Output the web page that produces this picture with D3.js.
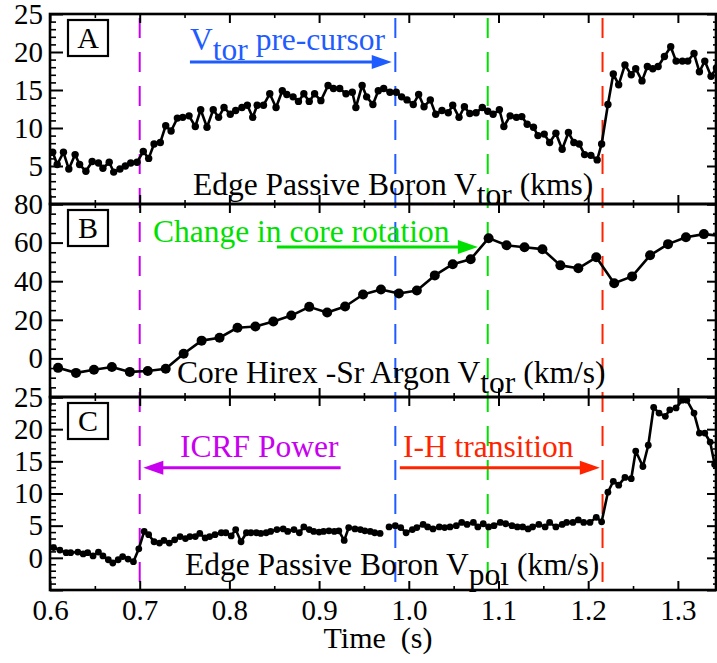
<!DOCTYPE html>
<html>
<head>
<meta charset="utf-8">
<script src="https://cdn.jsdelivr.net/npm/d3@7"></script>
<style>
  html, body { margin: 0; padding: 0; background: #fff; }
  svg { display: block; }
</style>
</head>
<body>
<svg id="chart" width="717" height="663"></svg>
<script>
// ---- Panel A: edge passive boron toroidal velocity (km/s)
const aTime = [0.603,0.608,0.615,0.621,0.628,0.633,0.640,0.647,0.654,0.659,
  0.666,0.671,0.678,0.684,0.690,0.697,0.704,0.710,0.716,0.723,
  0.729,0.735,0.742,0.748,0.755,0.762,0.768,0.775,0.782,0.788,
  0.794,0.801,0.807,0.814,0.820,0.826,0.831,0.838,0.845,0.852,
  0.859,0.864,0.871,0.877,0.883,0.889,0.895,0.902,0.910,0.916,
  0.923,0.930,0.937,0.941,0.948,0.953,0.960,0.966,0.972,0.979,
  0.986,0.992,0.998,1.005,1.011,1.017,1.024,1.030,1.037,1.044,
  1.049,1.056,1.062,1.068,1.075,1.082,1.088,1.094,1.101,1.106,
  1.113,1.120,1.126,1.132,1.139,1.144,1.151,1.157,1.164,1.171,
  1.178,1.184,1.190,1.196,1.203,1.210,1.215,1.222,1.228,1.234,
  1.241,1.248,1.253,1.260,1.266,1.272,1.278,1.285,1.292,1.298,
  1.305,1.311,1.318,1.324,1.330,1.337,1.343];
const aVtor = [6.8,5.2,6.8,4.6,6.5,5.2,4.3,5.6,5.4,4.7,
  5.5,4.2,4.6,5.0,5.4,5.5,6.9,6.0,7.9,8.1,
  10.3,9.6,11.3,11.4,11.6,10.2,12.4,10.1,12.4,11.4,
  12.7,11.8,12.3,12.7,13.0,11.4,13.0,13.0,14.5,12.7,
  14.9,14.4,14.1,13.5,14.5,13.5,14.5,13.6,15.6,15.2,
  15.2,14.5,14.7,12.7,15.6,14.1,13.1,14.9,15.2,14.7,
  14.7,14.1,13.7,13.1,14.4,12.8,13.7,11.8,12.3,12.0,
  13.0,11.4,12.8,11.9,12.0,12.7,12.2,11.8,12.4,10.2,
  11.6,11.4,11.5,10.5,10.1,9.0,9.2,8.1,9.3,7.2,
  9.4,8.1,7.9,6.5,6.4,5.8,7.9,13.1,17.1,15.7,
  18.3,17.0,17.8,16.2,18.1,17.8,18.1,19.4,20.7,18.8,
  18.8,18.8,19.8,17.4,18.8,16.8,17.9];

// ---- Panel B: core Hirex-Sr argon toroidal velocity (km/s)
const bTime = [0.609,0.629,0.649,0.669,0.689,0.709,0.729,0.749,0.769,0.789,
  0.809,0.829,0.849,0.869,0.889,0.909,0.929,0.949,0.969,0.989,
  1.009,1.029,1.049,1.069,1.089,1.109,1.129,1.149,1.169,1.189,
  1.209,1.229,1.249,1.269,1.289,1.309,1.329,1.349];
const bVtor = [-4.9,-7.5,-5.9,-4.5,-7.0,-6.5,-5.4,2.4,9.2,10.7,
  15.9,16.5,19.1,22.2,26.7,23.8,26.9,33.1,35.7,33.6,
  35.2,43.0,48.8,51.4,62.3,58.6,57.6,56.6,48.2,46.7,
  52.4,38.9,42.5,53.4,59.2,62.8,64.4,63.4];

// ---- Panel C: edge passive boron poloidal velocity (km/s); null = missing sample
const cTime = [0.604,0.611,0.618,0.623,0.631,0.637,0.642,0.648,0.654,0.659,
  0.665,0.670,0.676,0.681,0.687,0.693,0.699,0.705,0.710,0.716,
  0.722,0.727,0.733,0.739,0.745,0.751,0.756,0.762,0.767,0.773,
  0.778,0.784,0.791,0.796,0.802,0.807,0.813,0.819,0.824,0.830,
  0.835,0.841,0.846,0.853,0.860,0.865,0.872,0.878,0.883,0.889,
  0.894,0.900,0.905,0.911,0.917,0.922,0.928,0.933,0.940,0.946,
  0.951,0.957,0.962,0.968,0.973,0.978,0.985,0.991,0.997,1.004,
  1.009,1.016,1.021,1.027,1.034,1.040,1.046,1.053,1.059,1.065,
  1.072,1.077,1.083,1.089,1.095,1.102,1.108,1.115,1.121,1.127,
  1.133,1.138,1.145,1.152,1.157,1.164,1.171,1.176,1.183,1.189,
  1.195,1.202,1.209,1.215,1.222,1.228,1.234,1.241,1.248,1.253,
  1.261,1.267,1.273,1.279,1.286,1.291,1.298,1.305,1.310,1.318,
  1.324,1.330,1.336,1.341];
const cVpol = [1.6,1.2,0.8,0.8,0.9,0.6,0.8,0.3,0.9,0.3,
  -0.3,-0.8,-0.3,0.2,-0.2,-0.6,1.4,4.1,3.6,2.5,
  2.3,2.7,2.3,2.8,3.3,3.0,3.3,3.3,3.8,3.1,
  3.3,3.6,3.9,3.9,3.4,4.4,2.5,3.9,3.9,3.9,
  3.8,3.9,4.1,4.4,4.5,4.1,4.4,3.9,4.8,4.4,
  4.1,4.0,4.1,4.2,4.1,4.2,2.7,4.7,4.5,4.4,
  4.2,4.1,3.9,3.8,null,4.8,5.0,4.7,3.9,4.4,
  4.7,5.2,4.8,4.5,4.8,4.7,4.8,5.0,5.5,5.2,
  5.5,4.8,5.3,4.8,5.0,5.5,5.3,5.0,4.8,4.8,
  4.5,4.8,5.2,4.8,5.5,4.8,5.2,5.5,5.5,5.9,
  5.5,5.5,6.3,5.6,10.2,11.9,11.3,12.5,12.3,16.6,
  14.2,17.5,23.4,22.5,22.0,23.0,23.3,24.5,24.5,22.5,
  19.4,19.4,18.0,14.5];

// ---- Axis ticks
const xMajorTicks = [0.6,0.7,0.8,0.9,1.0,1.1,1.2,1.3];
const xMinorTicks = [0.65,0.75,0.85,0.95,1.05,1.15,1.25];
const aTickLabels = [5,10,15,20,25];
const bTickLabels = [0,20,40,60,80];
const cTickLabels = [0,5,10,15,20,25];

// ---- Event times (s) marked by dashed verticals
const eventTimes = [0.700, 0.985, 1.088, 1.216];
const eventColors = ["#c800f0", "#1f5cff", "#00e000", "#ff2400"];

const SERIF = '"Liberation Serif"';
const FONT_TICK = 29, FONT_NOTE = 31.5;
const svg = d3.select("#chart");

const x = d3.scaleLinear().domain([0.6, 1.3425]).range([50, 716]);
const X0 = 50, X1 = 716;

const panels = [
  { id: "A", top: 14, bottom: 204, domain: [0, 25], major: 5, minor: 1,
    labels: aTickLabels, time: aTime, vals: aVtor, r: 3.7 },
  { id: "B", top: 204, bottom: 397, domain: [-20, 80], major: 20, minor: 5,
    labels: bTickLabels, time: bTime, vals: bVtor, r: 5 },
  { id: "C", top: 397, bottom: 590, domain: [-5, 25], major: 5, minor: 1,
    labels: cTickLabels, time: cTime, vals: cVpol, r: 3.4 }
];
panels.forEach(p => {
  p.y = d3.scaleLinear().domain(p.domain).range([p.bottom, p.top]);
});

// dashed event markers through all three panels
const gEvents = svg.append("g");
eventTimes.forEach((t, i) => {
  gEvents.append("line")
    .attr("x1", x(t)).attr("x2", x(t))
    .attr("y1", 14).attr("y2", 590)
    .attr("stroke", eventColors[i])
    .attr("stroke-width", 2)
    .attr("stroke-dasharray", "20,14")
    .attr("stroke-dashoffset", -4);
});

const defs = svg.append("defs");

panels.forEach(p => {
  const g = svg.append("g");
  const clipId = "clip" + p.id;
  defs.append("clipPath").attr("id", clipId)
    .append("rect").attr("x", X0).attr("y", p.top)
    .attr("width", X1 - X0).attr("height", p.bottom - p.top);

  const pts = p.time.map((t, i) => ({ t, v: p.vals[i] }));
  const line = d3.line().defined(d => d.v !== null)
    .x(d => x(d.t)).y(d => p.y(d.v));
  const gd = g.append("g").attr("clip-path", `url(#${clipId})`);
  gd.append("path").datum(pts)
    .attr("d", line).attr("fill", "none")
    .attr("stroke", "#000").attr("stroke-width", 2.6)
    .attr("stroke-linejoin", "round");
  gd.selectAll("circle").data(pts.filter(d => d.v !== null)).join("circle")
    .attr("cx", d => x(d.t)).attr("cy", d => p.y(d.v)).attr("r", p.r)
    .attr("fill", "#000");

  const majors = d3.range(p.domain[0], p.domain[1] + 0.001, p.major);
  const minors = d3.range(p.domain[0], p.domain[1] + 0.001, p.minor)
    .filter(v => Math.abs(v / p.major - Math.round(v / p.major)) > 1e-6);

  const styleAxis = (sel) => {
    sel.select(".domain").remove();
    sel.attr("font-family", null).attr("font-size", null);
    sel.selectAll("line").attr("stroke", "#000");
    sel.selectAll("text").style("font-family", SERIF)
      .style("font-size", FONT_TICK + "px").attr("fill", "#000");
  };

  // left axis: labelled majors, unlabelled minors, ticks pointing inward
  g.append("g").attr("transform", `translate(${X0},0)`)
    .call(d3.axisLeft(p.y).tickValues(majors).tickSize(-13).tickSizeOuter(0).tickPadding(7)
      .tickFormat(v => p.labels.includes(v) ? d3.format("d")(v) : ""))
    .call(styleAxis).call(s => s.selectAll("line").attr("stroke-width", 2));
  g.append("g").attr("transform", `translate(${X0},0)`)
    .call(d3.axisLeft(p.y).tickValues(minors).tickSize(-6).tickSizeOuter(0).tickFormat(""))
    .call(styleAxis).call(s => s.selectAll("line").attr("stroke-width", 1.6));

  // right axis
  g.append("g").attr("transform", `translate(${X1},0)`)
    .call(d3.axisRight(p.y).tickValues(majors).tickSize(-9).tickSizeOuter(0).tickFormat(""))
    .call(styleAxis).call(s => s.selectAll("line").attr("stroke-width", 2));
  g.append("g").attr("transform", `translate(${X1},0)`)
    .call(d3.axisRight(p.y).tickValues(minors).tickSize(-3).tickSizeOuter(0).tickFormat(""))
    .call(styleAxis).call(s => s.selectAll("line").attr("stroke-width", 1.6));

  // top and bottom time axes
  g.append("g").attr("transform", `translate(0,${p.top})`)
    .call(d3.axisTop(x).tickValues(xMajorTicks).tickSize(-9).tickSizeOuter(0).tickFormat(""))
    .call(styleAxis).call(s => s.selectAll("line").attr("stroke-width", 2));
  g.append("g").attr("transform", `translate(0,${p.top})`)
    .call(d3.axisTop(x).tickValues(xMinorTicks).tickSize(-4).tickSizeOuter(0).tickFormat(""))
    .call(styleAxis).call(s => s.selectAll("line").attr("stroke-width", 1.6));
  g.append("g").attr("transform", `translate(0,${p.bottom})`)
    .call(d3.axisBottom(x).tickValues(xMajorTicks).tickSize(-9).tickSizeOuter(0).tickPadding(9)
      .tickFormat(p.id === "C" ? d3.format(".1f") : ""))
    .call(styleAxis).call(s => s.selectAll("line").attr("stroke-width", 2));
  g.append("g").attr("transform", `translate(0,${p.bottom})`)
    .call(d3.axisBottom(x).tickValues(xMinorTicks).tickSize(-4).tickSizeOuter(0).tickFormat(""))
    .call(styleAxis).call(s => s.selectAll("line").attr("stroke-width", 1.6));

  // frame
  g.append("rect").attr("x", X0).attr("y", p.top)
    .attr("width", X1 - X0).attr("height", p.bottom - p.top)
    .attr("fill", "none").attr("stroke", "#000").attr("stroke-width", 2.6);

  // boxed panel letter
  g.append("rect").attr("x", 68).attr("y", p.top + 6).attr("width", 40).attr("height", 36)
    .attr("fill", "#fff").attr("stroke", "#000").attr("stroke-width", 2.2);
  g.append("text").attr("x", 88).attr("y", p.top + 34).attr("text-anchor", "middle")
    .style("font-family", SERIF).style("font-size", "30px").text(p.id);
});

// text with a subscript, e.g. V_tor
function subText(xPos, yPos, before, sub, after, color) {
  const t = svg.append("text").attr("x", xPos).attr("y", yPos)
    .attr("fill", color).style("font-family", SERIF).style("font-size", FONT_NOTE + "px")
    .style("white-space", "pre");
  t.append("tspan").text(before);
  t.append("tspan").attr("dy", 10).text(sub);
  t.append("tspan").attr("dy", -10).text(after);
  return t;
}

function note(xPos, yPos, str, color) {
  svg.append("text").attr("x", xPos).attr("y", yPos).attr("fill", color)
    .style("font-family", SERIF).style("font-size", FONT_NOTE + "px").text(str);
}

function arrow(tFrom, tTo, yPix, color) {
  const x0 = x(tFrom), x1 = x(tTo);
  const dir = Math.sign(x1 - x0);
  const head = 20, half = 7;
  svg.append("line").attr("x1", x0).attr("x2", x1 - dir * head * 0.6)
    .attr("y1", yPix).attr("y2", yPix)
    .attr("stroke", color).attr("stroke-width", 3);
  svg.append("path")
    .attr("d", `M${x1},${yPix} L${x1 - dir * head},${yPix - half} L${x1 - dir * head},${yPix + half} Z`)
    .attr("fill", color);
}

const pA = panels[0], pB = panels[1], pC = panels[2];

// Panel A notes
subText(190, 50, "V", "tor", " pre-cursor", eventColors[1]);
arrow(0.756, 0.981, pA.y(18.7), eventColors[1]);
subText(193, 195, "Edge Passive Boron V", "tor", " (kms)", "#000");

// Panel B notes
note(153, 242, "Change in core rotation", eventColors[2]);
arrow(0.853, 1.077, pB.y(57.7), eventColors[2]);
subText(177, 383, "Core Hirex -Sr Argon V", "tor", " (km/s)", "#000");

// Panel C notes
note(180, 457, "ICRF Power", eventColors[0]);
arrow(0.924, 0.704, pC.y(14.0), eventColors[0]);
note(403, 457, "I-H transition", eventColors[3]);
arrow(0.990, 1.213, pC.y(14.0), eventColors[3]);
subText(185, 575, "Edge Passive Boron V", "pol", " (km/s)", "#000");

// time axis title
svg.append("text").attr("x", 378).attr("y", 648).attr("text-anchor", "middle")
  .style("white-space", "pre")
  .style("font-family", SERIF).style("font-size", "30px").text("Time  (s)");
</script>
</body>
</html>
